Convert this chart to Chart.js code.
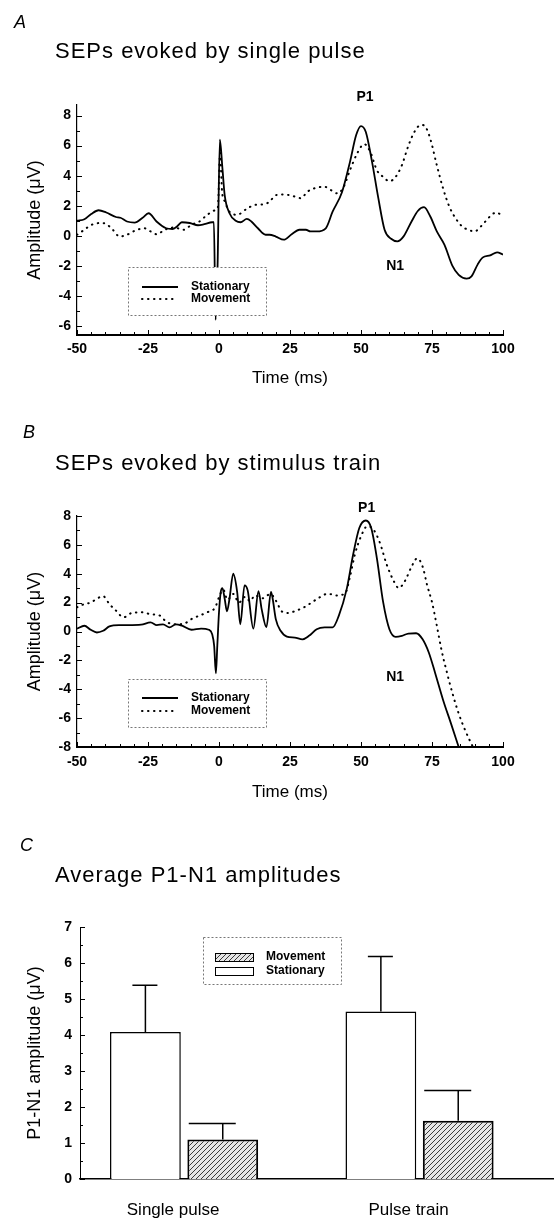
<!DOCTYPE html>
<html>
<head>
<meta charset="utf-8">
<title>SEPs evoked by single pulse and stimulus train</title>
<script src="https://cdn.jsdelivr.net/npm/chart.js@4.4.1/dist/chart.umd.min.js"></script>
<style>
  html, body { margin: 0; padding: 0; background: #fff; }
  body {
    width: 554px; height: 1218px; position: relative; overflow: hidden;
    font-family: 'Liberation Sans', Arial, sans-serif; color: #000;
  }
  canvas { position: absolute; left: 0; }
  .panel-letter { position: absolute; font-size: 18px; font-style: italic; line-height: 1; z-index: 2; }
  .panel-title {
    position: absolute; left: 55px; font-size: 22px; letter-spacing: 1px;
    line-height: 1; white-space: nowrap; z-index: 2;
  }
</style>
</head>
<body>
<canvas id="chart-single" width="554" height="400" style="top:0"></canvas>
<canvas id="chart-train" width="554" height="410" style="top:400px"></canvas>
<canvas id="chart-amplitudes" width="554" height="408" style="top:810px"></canvas>

<div class="panel-letter" style="left:14px; top:13px;">A</div>
<div class="panel-title" style="top:40px;">SEPs evoked by single pulse</div>
<div class="panel-letter" style="left:23px; top:423px;">B</div>
<div class="panel-title" style="top:452px;">SEPs evoked by stimulus train</div>
<div class="panel-letter" style="left:20px; top:836px;">C</div>
<div class="panel-title" style="top:864px;">Average P1-N1 amplitudes</div>

<script>
// Panel A: single pulse, stationary (solid)
const singleStationaryTime = [-50, -47.4, -45, -42.4, -39.7, -36.3, -34.7, -32.4, -29.7, -26.9, -24.8, -22, -18.6, -16.4, -14.8, -13.1, -10.3, -7.4, -5.2, -2.4, -1.8, -1.2, -0.5, 0.3, 1.2, 2, 3.7, 5.9, 7.6, 9.8, 11.4, 13.7, 16.4, 17.8, 20, 22.8, 25.6, 28.3, 30.6, 32.2, 34.4, 37.6, 40, 43.3, 46.1, 48.3, 50, 51.7, 53.9, 56.1, 58.3, 60.6, 62.8, 65, 67.8, 70, 72.2, 74.4, 76.7, 79.4, 82.2, 84.4, 87.2, 88.9, 91.1, 92.8, 95.5, 97.9, 100];
const singleStationaryAmp = [1.0, 1.1, 1.45, 1.7, 1.55, 1.25, 1.2, 0.95, 0.88, 1.2, 1.5, 0.95, 0.5, 0.45, 0.62, 0.9, 0.85, 0.7, 0.77, 0.9, 0.9, -5.6, -2.0, 6.4, 4.5, 2.7, 1.5, 1.0, 0.9, 1.12, 0.95, 0.5, 0.07, 0.07, -0.05, -0.26, 0.1, 0.4, 0.4, 0.29, 0.29, 0.5, 1.6, 2.9, 4.9, 6.7, 7.3, 6.9, 4.9, 2.5, 0.4, -0.2, -0.37, -0.04, 0.95, 1.65, 1.9, 1.28, 0.29, -0.6, -2.0, -2.6, -2.85, -2.7, -1.9, -1.45, -1.3, -1.1, -1.25];

// Panel A: single pulse, movement (dotted)
const singleMovementTime = [-50, -47.4, -45.2, -41.8, -39.6, -37.4, -35, -32.4, -29.7, -26.3, -24.1, -21.9, -19.1, -15.8, -12.4, -9.7, -6.9, -4.1, -1.3, -0.4, 0.4, 1.1, 2, 3.7, 6.4, 9.8, 12.6, 15.9, 17.8, 20, 22.8, 25.6, 28.9, 31.1, 34.4, 37.2, 39.4, 41.7, 43.9, 46.1, 48.9, 51.1, 53.3, 55.6, 57.8, 60, 62.2, 64.4, 66.7, 68.9, 71.1, 72.8, 74.4, 76.7, 78.9, 81.1, 83.3, 85.6, 87.8, 90, 92.2, 94.5, 96.2, 97.9, 100];
const singleMovementAmp = [0.07, 0.4, 0.7, 0.85, 0.77, 0.4, -0.05, 0.07, 0.33, 0.5, 0.29, 0.1, 0.4, 0.55, 0.4, 0.73, 0.95, 1.4, 1.7, 1.9, 5.5, 2.9, 2.3, 1.6, 1.4, 1.8, 2.05, 2.1, 2.27, 2.7, 2.75, 2.67, 2.5, 2.93, 3.2, 3.26, 3.04, 2.82, 3.26, 4.36, 5.57, 6.1, 5.57, 4.36, 3.92, 3.63, 3.92, 4.7, 6.0, 6.94, 7.38, 7.22, 6.45, 4.7, 3.15, 1.94, 1.17, 0.62, 0.4, 0.29, 0.62, 1.1, 1.43, 1.55, 1.2];

// Panel B: stimulus train, stationary (solid)
const trainStationaryTime = [-50, -47.4, -45.2, -43, -40.8, -38.6, -35.2, -31.9, -27.4, -24.1, -21.9, -19.7, -17.4, -15.2, -13, -9.7, -6.3, -3.6, -2.4, -1.7, -1.1, -0.6, 0, 0.6, 1.2, 2, 2.8, 3.7, 5, 6.4, 7.5, 9, 10.1, 12.1, 13.9, 15, 16.7, 18.3, 18.9, 20, 21.7, 23.9, 26.7, 29.4, 31.7, 34.4, 37.2, 40, 42.2, 45, 47.2, 49.4, 51.7, 53.6, 55.6, 57.8, 60, 62.2, 64.4, 66.7, 69.4, 71.7, 73.9, 76.1, 78.9, 81.7, 84.4];
const trainStationaryAmp = [0.2, 0.4, 0.12, -0.07, 0.05, 0.35, 0.44, 0.44, 0.47, 0.63, 0.44, 0.5, 0.28, 0.5, 0.4, 0.12, 0.2, 0.12, -0.19, -1.0, -2.9, -1.0, 1.33, 2.73, 3.0, 2.27, 1.4, 2.27, 4.0, 2.73, 0.5, 3.2, 2.85, 0.2, 2.8, 1.57, 0.3, 2.75, 2.27, 0.86, 0.05, -0.35, -0.42, -0.54, -0.3, 0.16, 0.28, 0.28, 1.1, 2.97, 5.3, 7.17, 7.69, 7.17, 5.07, 2.03, 0.16, -0.37, -0.3, -0.14, -0.12, -0.54, -1.47, -2.87, -4.74, -6.38, -8.0];

// Panel B: stimulus train, movement (dotted)
const trainMovementTime = [-50, -47.4, -45.2, -43, -40.8, -38.6, -36.3, -33.6, -30.8, -27.4, -24.1, -20.8, -18.6, -15.2, -11.9, -9.7, -6.9, -4.1, -1.3, 0, 1.5, 3, 5, 7, 9.2, 11, 12.6, 15.4, 18.1, 20, 22.2, 24.4, 27.2, 30, 32.8, 35.6, 38.3, 41.1, 44.4, 46.1, 47.8, 50, 52.2, 54.4, 56.7, 58.9, 61.7, 63.3, 65.6, 67.8, 69.8, 71.7, 73.3, 75, 76.7, 78.3, 80, 82.2, 84.4, 86.7, 89.4];
const trainMovementAmp = [1.68, 1.9, 2.0, 2.27, 2.45, 1.9, 1.45, 0.98, 1.28, 1.33, 1.2, 1.1, 0.68, 0.5, 0.58, 0.86, 1.1, 1.33, 1.68, 2.38, 2.9, 2.2, 2.6, 2.0, 2.4, 2.1, 2.5, 2.3, 2.6, 2.15, 1.38, 1.28, 1.45, 1.68, 2.03, 2.38, 2.62, 2.5, 2.62, 3.78, 5.3, 6.59, 7.29, 7.06, 6.12, 4.72, 3.43, 3.01, 3.55, 4.49, 5.07, 4.49, 3.2, 2.03, 0.4, -1.24, -2.64, -4.28, -5.68, -6.85, -8.0];

// Panel C: average P1-N1 amplitudes (mean and upper error)
const categories = ['Single pulse', 'Pulse train'];
const stationaryMean = [4.08, 4.65];
const stationaryErr = [1.3, 1.53];
const movementMean = [1.1, 1.62];
const movementErr = [0.44, 0.84];

const FONT = "'Liberation Sans', Arial, sans-serif";
Chart.defaults.font.family = FONT;
Chart.defaults.color = '#000';

document.addEventListener('DOMContentLoaded', function() {
    createSepChart('chart-single', {
        stationary: [singleStationaryTime, singleStationaryAmp],
        movement: [singleMovementTime, singleMovementAmp],
        yMin: -6.6, yMax: 8.7,
        padding: { left: 24, right: 51, top: 105, bottom: 10 },
        xHeight: 55, tickPad: 6, titlePad: 1,
        legendBox: { x: 128, y: 267, w: 138, h: 48 }, rowY: [20, 32],
        peaks: [{ text: 'P1', x: 51.4, y: 9.23 }, { text: 'N1', x: 62, y: -2.0 }]
    });
    createSepChart('chart-train', {
        stationary: [trainStationaryTime, trainStationaryAmp],
        movement: [trainMovementTime, trainMovementAmp],
        yMin: -8, yMax: 8,
        padding: { left: 24, right: 51, top: 116, bottom: 4 },
        xHeight: 59, tickPad: 7, titlePad: 3,
        legendBox: { x: 128, y: 279, w: 138, h: 48 }, rowY: [19, 32],
        peaks: [{ text: 'P1', x: 52, y: 8.55 }, { text: 'N1', x: 62, y: -3.15 }]
    });
    createAmplitudeChart();
});

/**
 * Turn a time array and an amplitude array into {x, y} points
 */
function toPoints(times, amps) {
    return times.map((t, i) => ({ x: t, y: amps[i] }));
}

/**
 * Small inward tick marks along the axes
 */
const axisMarks = {
    id: 'axisMarks',
    afterDatasetsDraw(chart, args, opts) {
        if (!opts.marks) return;
        const { ctx, chartArea } = chart;
        ctx.save();
        ctx.strokeStyle = '#000';
        ctx.lineWidth = 1;
        opts.marks.forEach(m => {
            const scale = chart.scales[m.axis];
            const first = Math.ceil(scale.min / m.step - 1e-6);
            const last = Math.floor(scale.max / m.step + 1e-6);
            for (let k = first; k <= last; k++) {
                const p = Math.round(scale.getPixelForValue(k * m.step)) + 0.5;
                ctx.beginPath();
                if (scale.isHorizontal()) {
                    ctx.moveTo(p, chartArea.bottom);
                    ctx.lineTo(p, chartArea.bottom - m.len);
                } else {
                    ctx.moveTo(chartArea.left, p);
                    ctx.lineTo(chartArea.left + m.len, p);
                }
                ctx.stroke();
            }
        });
        ctx.restore();
    }
};

/**
 * Boxed legend drawn inside the plot
 */
const boxLegend = {
    id: 'boxLegend',
    afterDraw(chart, args, opts) {
        if (!opts.box) return;
        const { ctx } = chart;
        const b = opts.box;
        ctx.save();
        ctx.fillStyle = '#fff';
        ctx.fillRect(b.x, b.y, b.w, b.h);
        ctx.setLineDash([2, 2]);
        ctx.strokeStyle = '#777';
        ctx.lineWidth = 1;
        ctx.strokeRect(b.x + 0.5, b.y + 0.5, b.w, b.h);
        ctx.font = 'bold 12px ' + FONT;
        ctx.textBaseline = 'middle';
        opts.order.forEach((di, row) => {
            const ds = chart.data.datasets[di];
            const y = b.y + opts.rowY[row];
            if (opts.swatch === 'line') {
                ctx.setLineDash(ds.borderDash || []);
                ctx.lineCap = ds.borderCapStyle || 'butt';
                ctx.lineWidth = ds.borderWidth;
                ctx.strokeStyle = ds.borderColor;
                ctx.beginPath();
                ctx.moveTo(b.x + 14, y);
                ctx.lineTo(b.x + 50, y);
                ctx.stroke();
            } else {
                ctx.setLineDash([]);
                ctx.fillStyle = ds.backgroundColor;
                ctx.fillRect(b.x + 12, y - 4, 38, 8);
                ctx.lineWidth = 1;
                ctx.strokeStyle = '#000';
                ctx.strokeRect(b.x + 12.5, y - 3.5, 38, 8);
            }
            ctx.fillStyle = '#000';
            ctx.fillText(ds.label, b.x + 63, y);
        });
        ctx.restore();
    }
};

/**
 * Peak names (P1 / N1) placed in data coordinates
 */
const peakLabels = {
    id: 'peakLabels',
    afterDraw(chart, args, opts) {
        if (!opts.labels) return;
        const { ctx, scales } = chart;
        ctx.save();
        ctx.font = 'bold 14px ' + FONT;
        ctx.fillStyle = '#000';
        ctx.textAlign = 'center';
        ctx.textBaseline = 'middle';
        opts.labels.forEach(l => {
            ctx.fillText(l.text, scales.x.getPixelForValue(l.x), scales.y.getPixelForValue(l.y));
        });
        ctx.restore();
    }
};

/**
 * Upper error bars on top of each bar
 */
const errorBars = {
    id: 'errorBars',
    afterDatasetsDraw(chart, args, opts) {
        if (!opts.errors) return;
        const { ctx } = chart;
        const yScale = chart.scales.y;
        ctx.save();
        ctx.strokeStyle = '#000';
        ctx.lineWidth = 1.5;
        opts.errors.forEach((errs, di) => {
            const meta = chart.getDatasetMeta(di);
            const cap = opts.caps[di];
            meta.data.forEach((bar, i) => {
                const value = chart.data.datasets[di].data[i].y;
                const top = yScale.getPixelForValue(value + errs[i]);
                ctx.beginPath();
                ctx.moveTo(bar.x, bar.y);
                ctx.lineTo(bar.x, top);
                ctx.moveTo(bar.x + cap[0], top);
                ctx.lineTo(bar.x + cap[1], top);
                ctx.stroke();
            });
        });
        ctx.restore();
    }
};

/**
 * Create one SEP waveform chart (panels A and B)
 */
function createSepChart(canvasId, cfg) {
    const canvas = document.getElementById(canvasId);
    if (!canvas) return;

    const data = {
        datasets: [{
            label: 'Stationary',
            data: toPoints(cfg.stationary[0], cfg.stationary[1]),
            borderColor: '#000',
            borderWidth: 1.8,
            pointRadius: 0,
            cubicInterpolationMode: 'monotone'
        }, {
            label: 'Movement',
            data: toPoints(cfg.movement[0], cfg.movement[1]),
            borderColor: '#000',
            borderWidth: 2,
            borderDash: [0.5, 5.5],
            borderCapStyle: 'round',
            pointRadius: 0,
            cubicInterpolationMode: 'monotone'
        }]
    };

    new Chart(canvas, {
        type: 'line',
        data: data,
        plugins: [axisMarks, boxLegend, peakLabels],
        options: {
            responsive: false,
            animation: false,
            layout: { padding: cfg.padding },
            plugins: {
                legend: { display: false },
                tooltip: { enabled: false },
                axisMarks: {
                    marks: [
                        { axis: 'y', step: 1, len: 3 },
                        { axis: 'y', step: 2, len: 5 },
                        { axis: 'x', step: 5, len: 3 },
                        { axis: 'x', step: 25, len: 5 }
                    ]
                },
                boxLegend: { box: cfg.legendBox, rowY: cfg.rowY, order: [0, 1], swatch: 'line' },
                peakLabels: { labels: cfg.peaks }
            },
            scales: {
                x: {
                    type: 'linear',
                    min: -50,
                    max: 100,
                    afterFit: s => { s.height = cfg.xHeight; },
                    grid: { display: false, drawTicks: false },
                    border: { display: true, color: '#000', width: 2 },
                    ticks: {
                        stepSize: 25,
                        padding: cfg.tickPad,
                        maxRotation: 0,
                        font: { size: 14, weight: 'bold' }
                    },
                    title: {
                        display: true,
                        text: 'Time (ms)',
                        font: { size: 17 },
                        padding: { top: 0, bottom: cfg.titlePad }
                    }
                },
                y: {
                    min: cfg.yMin,
                    max: cfg.yMax,
                    afterFit: s => { s.width = 53; },
                    grid: { display: false, drawTicks: false },
                    border: { display: true, color: '#000', width: 1.2 },
                    ticks: {
                        stepSize: 2,
                        includeBounds: false,
                        padding: 6,
                        font: { size: 14, weight: 'bold' }
                    },
                    title: {
                        display: true,
                        text: 'Amplitude (μV)',
                        font: { size: 18 },
                        padding: { top: 0, bottom: 0 }
                    }
                }
            }
        }
    });
}

/**
 * Create the grouped bar chart of average P1-N1 amplitudes (panel C)
 */
function createAmplitudeChart() {
    const canvas = document.getElementById('chart-amplitudes');
    if (!canvas) return;

    // diagonal hatch for the movement bars
    const tile = document.createElement('canvas');
    tile.width = 5;
    tile.height = 5;
    const g = tile.getContext('2d');
    g.fillStyle = '#e6e6e6';
    g.fillRect(0, 0, 5, 5);
    g.strokeStyle = '#3a3a3a';
    g.lineWidth = 1;
    g.beginPath();
    g.moveTo(0, 5); g.lineTo(5, 0);
    g.moveTo(-1, 1); g.lineTo(1, -1);
    g.moveTo(4, 6); g.lineTo(6, 4);
    g.stroke();
    const hatch = g.createPattern(tile, 'repeat');

    const data = {
        datasets: [{
            label: 'Stationary',
            data: stationaryMean.map((v, i) => ({ x: i + 1, y: v })),
            backgroundColor: '#fff',
            borderColor: '#000',
            borderWidth: 1.5
        }, {
            label: 'Movement',
            data: movementMean.map((v, i) => ({ x: i + 1, y: v })),
            backgroundColor: hatch,
            borderColor: '#000',
            borderWidth: 2
        }]
    };

    new Chart(canvas, {
        type: 'bar',
        data: data,
        plugins: [axisMarks, boxLegend, errorBars],
        options: {
            responsive: false,
            animation: false,
            layout: { padding: { left: 24, right: 0, top: 117, bottom: 0 } },
            datasets: {
                bar: { categoryPercentage: 0.657, barPercentage: 0.915 }
            },
            plugins: {
                legend: { display: false },
                tooltip: { enabled: false },
                axisMarks: {
                    marks: [
                        { axis: 'y', step: 0.5, len: 3 },
                        { axis: 'y', step: 1, len: 5 }
                    ]
                },
                boxLegend: { box: { x: 203, y: 127, w: 138, h: 47 }, rowY: [20, 34], order: [1, 0], swatch: 'box' },
                errorBars: { errors: [stationaryErr, movementErr], caps: [[-13, 12], [-34, 13]] }
            },
            scales: {
                x: {
                    type: 'linear',
                    offset: false,
                    min: 0.558,
                    max: 2.571,
                    afterBuildTicks: s => { s.ticks = categories.map((c, i) => ({ value: i + 1 })); },
                    afterFit: s => { s.height = 39; },
                    grid: { display: false, drawTicks: false, offset: false },
                    border: { display: true, color: '#000', width: 1.5 },
                    ticks: {
                        callback: (value, index) => categories[index],
                        padding: 21,
                        labelOffset: -11,
                        maxRotation: 0,
                        autoSkip: false,
                        font: { size: 17 }
                    }
                },
                y: {
                    min: 0,
                    max: 7,
                    afterFit: s => { s.width = 56; },
                    grid: { display: false, drawTicks: false },
                    border: { display: true, color: '#000', width: 1 },
                    ticks: {
                        stepSize: 1,
                        padding: 8,
                        font: { size: 14, weight: 'bold' }
                    },
                    title: {
                        display: true,
                        text: 'P1-N1 amplitude (μV)',
                        font: { size: 18 },
                        padding: { top: 0, bottom: 0 }
                    }
                }
            }
        }
    });
}
</script>
</body>
</html>
